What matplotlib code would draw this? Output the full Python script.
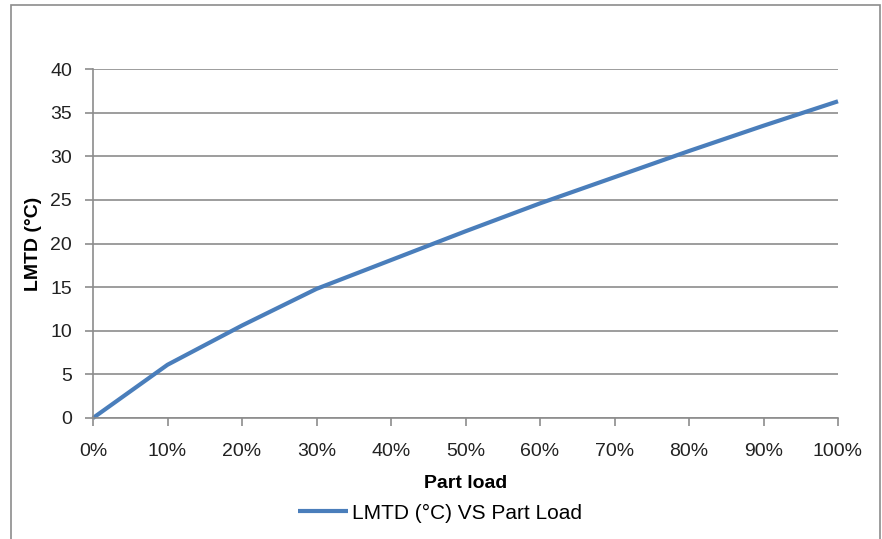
import matplotlib
matplotlib.use('Agg')
import matplotlib.pyplot as plt
from matplotlib.patches import Rectangle

part_load = [0, 10, 20, 30, 40, 50, 60, 70, 80, 90, 100]
lmtd = [0, 6.1, 10.6, 14.8, 18.1, 21.4, 24.6, 27.6, 30.6, 33.5, 36.3]
x_labels = ['%d%%' % p for p in part_load]
y_ticks = [0, 5, 10, 15, 20, 25, 30, 35, 40]

plt.rcParams['font.family'] = ['Liberation Sans', 'DejaVu Sans']
grey = '#8c8c8c'

fig = plt.figure(figsize=(8.82, 5.39), dpi=100)
# outer chart border (Excel style)
fig.patches.append(Rectangle((11/882, -0.05), 869/882, 1.05 - 5/539, transform=fig.transFigure,
                             fill=False, edgecolor=grey, linewidth=1.2))

ax = fig.add_axes([93/882, 1 - 418/539, 745/882, 349/539])
ax.plot(part_load, lmtd, color='#4a7ebb', linewidth=3, solid_capstyle='butt',
        label='LMTD (°C) VS Part Load', clip_on=False)

ax.set_xlim(0, 100)
ax.set_ylim(0, 40)
ax.set_xticks(part_load)
ax.set_xticklabels(x_labels)
ax.set_yticks(y_ticks)
ax.grid(axis='y', color=grey, linewidth=1.2)
ax.set_axisbelow(True)
for s in ['top', 'right']:
    ax.spines[s].set_visible(False)
for s in ['left', 'bottom']:
    ax.spines[s].set_color(grey)
    ax.spines[s].set_linewidth(1.2)
ax.tick_params(axis='both', colors=grey, labelcolor='#222222', labelsize=14,
               length=6, width=1.2)
ax.tick_params(axis='x', pad=12)
ax.tick_params(axis='y', pad=9)

ax.set_xlabel('Part load', fontsize=14, fontweight='bold', labelpad=11)
ax.set_ylabel('LMTD (°C)', fontsize=14, fontweight='bold', labelpad=6)

ax.legend(loc='center', bbox_to_anchor=((440 - 93) / 745, -(513 - 418) / 349), frameon=False,
          fontsize=15, handlelength=2.4, handletextpad=0.15)

fig.savefig('out.png', dpi=100)
